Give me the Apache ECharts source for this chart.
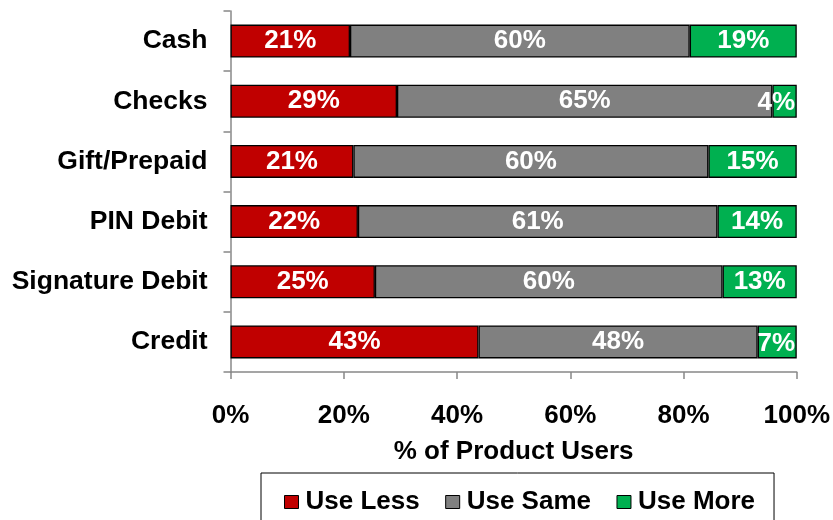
<!DOCTYPE html>
<html>
<head>
<meta charset="utf-8">
<script src="https://cdn.jsdelivr.net/npm/echarts@6/dist/echarts.min.js"></script>
<style>
html,body{margin:0;padding:0;background:#fff;}
#chart{width:833px;height:520px;}
</style>
</head>
<body>
<div id="chart"></div>
<script>
var categories = ['Cash', 'Checks', 'Gift/Prepaid', 'PIN Debit', 'Signature Debit', 'Credit'];
// bar shares as drawn (percent of product users)
var useLess = [21.1, 29.4, 21.7, 22.5, 25.5, 43.8];
var useSame = [60.0, 66.3, 62.7, 63.5, 61.4, 49.3];
var useMore = [18.9, 4.3, 15.6, 14.0, 13.1, 6.9];
// printed labels
var useLessLabels = [21, 29, 21, 22, 25, 43];
var useSameLabels = [60, 65, 60, 61, 60, 48];
var useMoreLabels = [19, 4, 15, 14, 13, 7];
var xTicks = [0, 20, 40, 60, 80, 100];

var FONT = "'Liberation Sans', Arial, sans-serif";
var GRID_RIGHT = 36;
var chart = echarts.init(document.getElementById('chart'), null, {renderer: 'canvas'});

function mkSeries(name, data, labels, color) {
  return {
    name: name,
    type: 'bar',
    stack: 'total',
    barWidth: 33,
    data: data,
    itemStyle: {color: color, borderColor: '#000', borderWidth: 1.3},
    label: {
      show: true,
      position: 'inside',
      offset: [0, 2],
      color: '#fff',
      fontFamily: FONT,
      fontWeight: 'bold',
      fontSize: 26,
      formatter: function (p) { return labels[p.dataIndex] + '%'; }
    },
    // keep labels inside the plot area (like the original)
    labelLayout: function (p) {
      var limit = chart.getWidth() - GRID_RIGHT - 2;
      var r = p.labelRect;
      if (r.x + r.width > limit) {
        return {x: limit - r.width / 2, y: r.y + r.height / 2, align: 'center', verticalAlign: 'middle'};
      }
      return {};
    },
    emphasis: {disabled: true}
  };
}

chart.setOption({
  animation: false,
  backgroundColor: '#fff',
  grid: {left: 230.5, right: GRID_RIGHT, top: 11, bottom: 148, containLabel: false},
  legend: {
    show: true,
    top: 473,
    left: 261,
    orient: 'horizontal',
    padding: [16, 19, 30, 23],
    borderColor: '#000',
    borderWidth: 1,
    itemWidth: 14,
    itemHeight: 13,
    itemGap: 25.5,
    icon: 'rect',
    itemStyle: {borderColor: '#000', borderWidth: 1},
    textStyle: {fontFamily: FONT, fontWeight: 'bold', fontSize: 26, color: '#000', padding: [0, 0, 0, 2]},
    data: ['Use Less', 'Use Same', 'Use More']
  },
  xAxis: {
    type: 'value',
    min: xTicks[0],
    max: xTicks[xTicks.length - 1],
    interval: 20,
    name: '% of Product Users',
    nameLocation: 'middle',
    nameGap: 67,
    nameTextStyle: {fontFamily: FONT, fontWeight: 'bold', fontSize: 26, color: '#000'},
    axisLine: {show: true, lineStyle: {color: '#888', width: 1.5}},
    axisTick: {show: true, length: 7, lineStyle: {color: '#888', width: 1.5}},
    splitLine: {show: false},
    axisLabel: {
      margin: 31,
      fontFamily: FONT, fontWeight: 'bold', fontSize: 26, color: '#000',
      formatter: '{value}%'
    }
  },
  yAxis: {
    type: 'category',
    data: categories,
    inverse: true,
    axisLine: {show: true, lineStyle: {color: '#888', width: 1.5}},
    axisTick: {show: true, length: 7, lineStyle: {color: '#888', width: 1.5}},
    axisLabel: {margin: 23, padding: [5, 0, 0, 0], fontFamily: FONT, fontWeight: 'bold', fontSize: 26.5, color: '#000'}
  },
  series: [
    mkSeries('Use Less', useLess, useLessLabels, '#C00000'),
    mkSeries('Use Same', useSame, useSameLabels, '#808080'),
    mkSeries('Use More', useMore, useMoreLabels, '#00B050')
  ]
});
</script>
</body>
</html>
